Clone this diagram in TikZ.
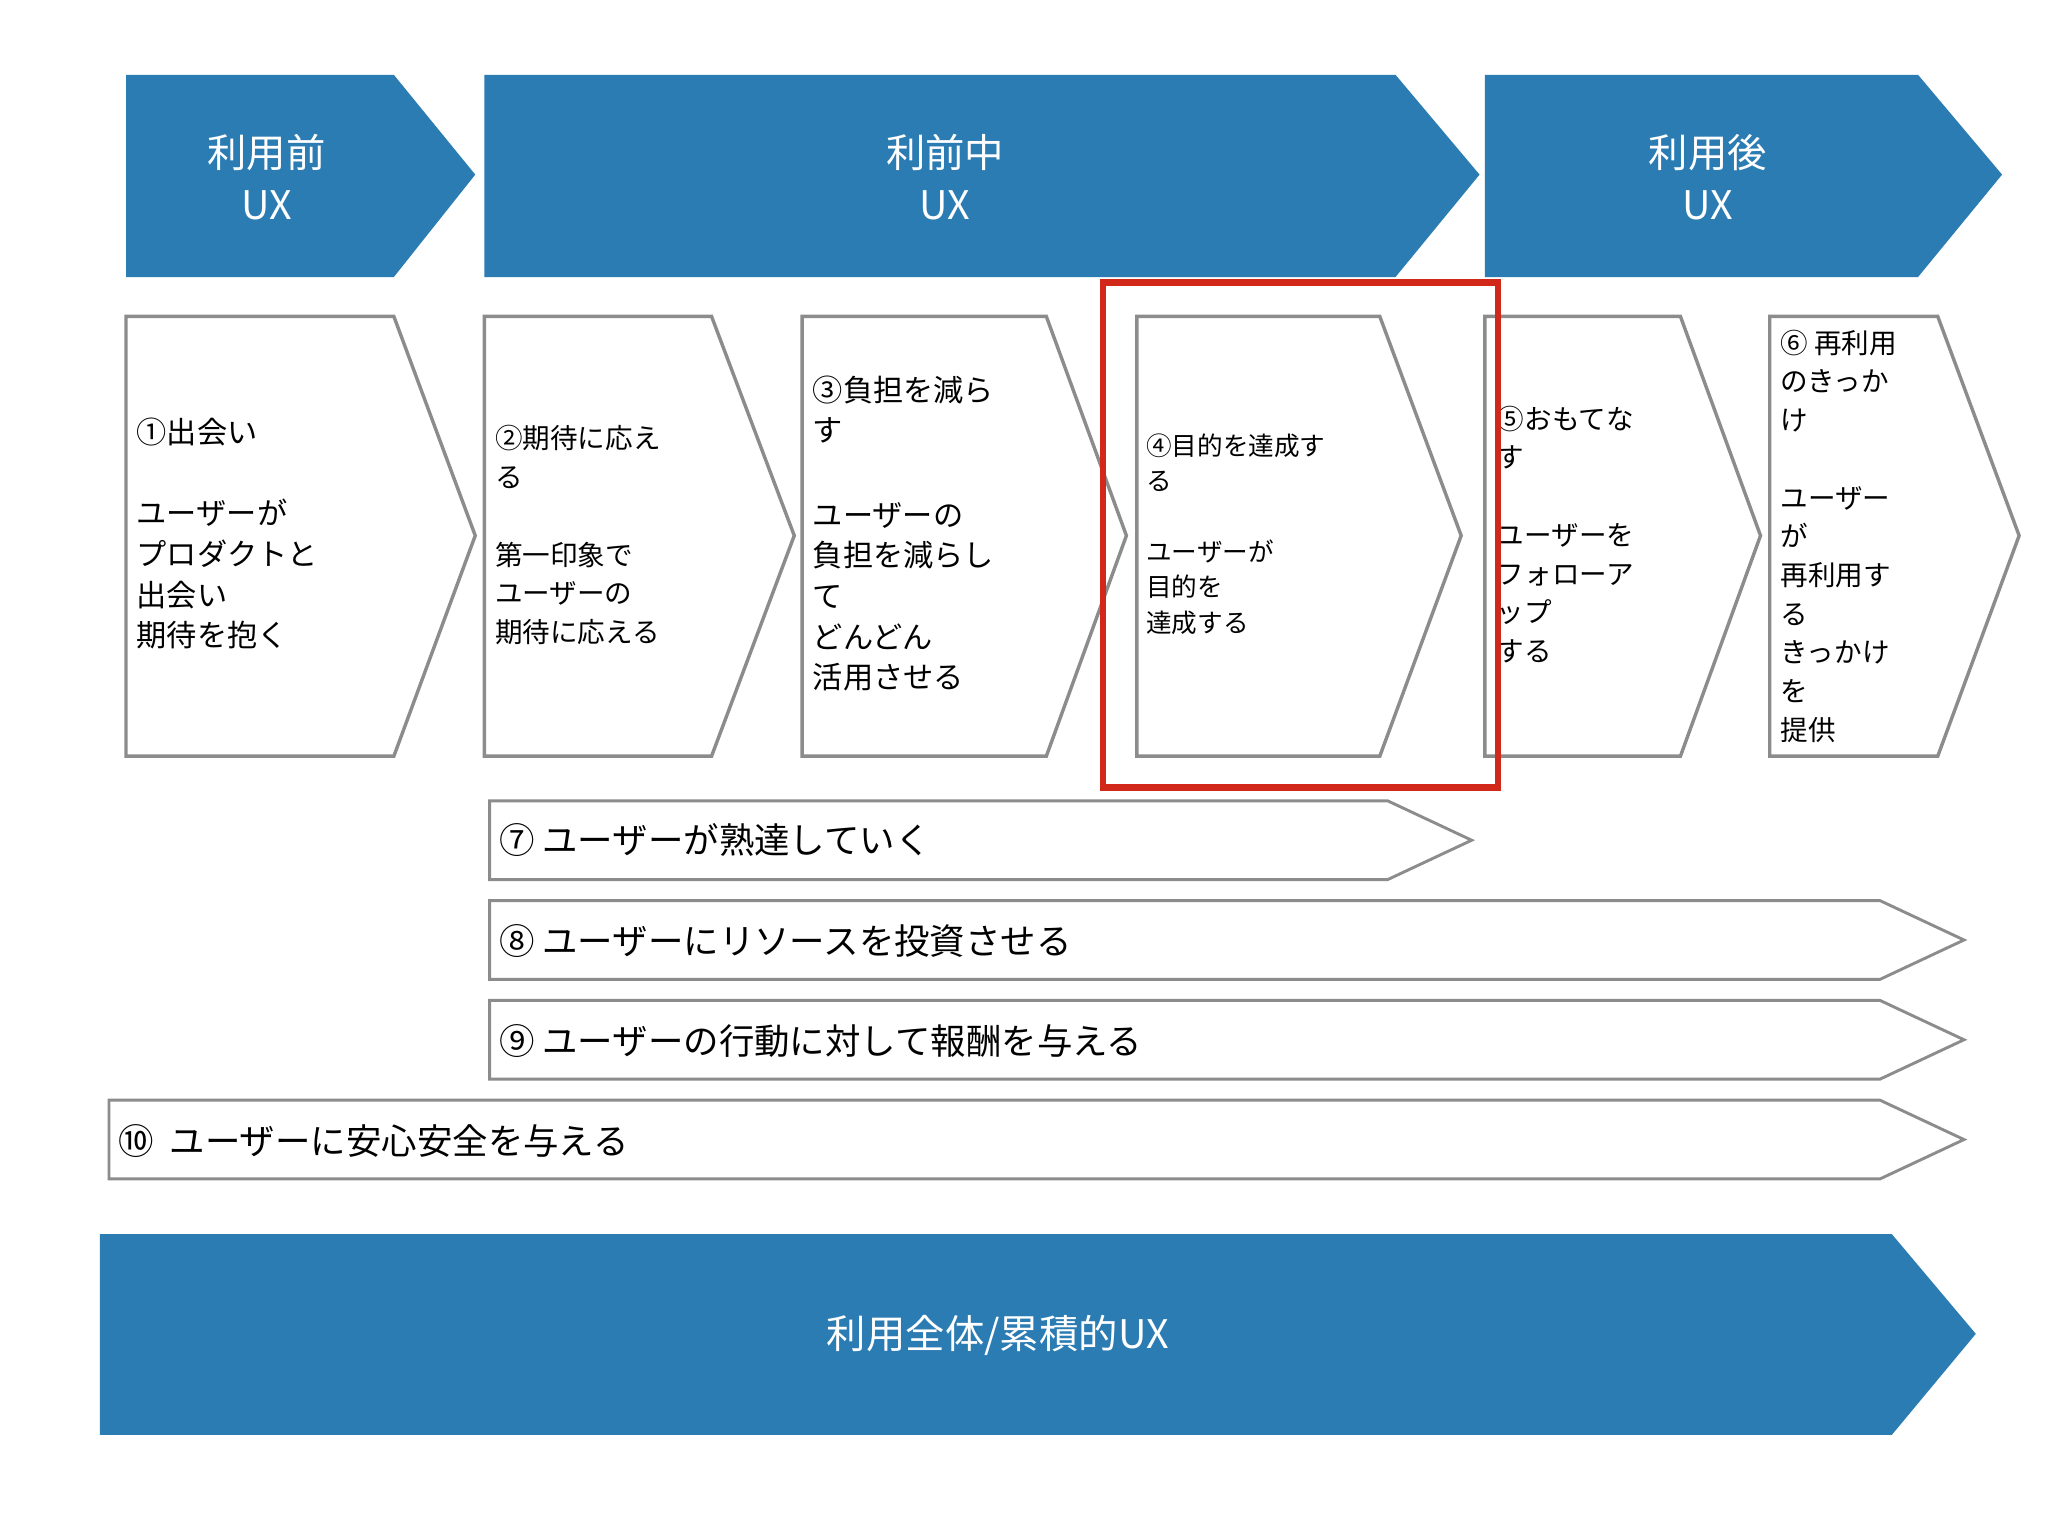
\documentclass[tikz,border=0pt]{standalone}
\usepackage{fontspec}
\setmainfont{Noto Sans CJK JP}
\definecolor{uxblue}{RGB}{44,124,180}
\definecolor{gline}{RGB}{140,140,140}
\definecolor{redmark}{RGB}{210,40,25}
\begin{document}
\begin{tikzpicture}[x=1pt,y=-1pt,
  blue/.style={fill=uxblue,draw=none},
  chev/.style={draw=gline,line width=2.6pt,fill=white,line join=miter},
  hd/.style={text=white,align=center,font=\fontsize{30}{40}\selectfont},
  bx/.style={anchor=north west,inner sep=0pt,align=left},
  bar/.style={anchor=west,inner sep=0pt,font=\fontsize{27}{30}\selectfont}]
\useasboundingbox (0,0) rectangle (1560,1170);
\fill[white] (0,0) rectangle (1560,1170);
% headers
\fill[blue] (96,57)--(300,57)--(362,133)--(300,211)--(96,211)--cycle;
\fill[blue] (369,57)--(1063,57)--(1127,133)--(1063,211)--(369,211)--cycle;
\fill[blue] (1131,57)--(1461,57)--(1525,133)--(1461,211)--(1131,211)--cycle;
\node[hd] (h1) at (203,135) {利用前\\UX};
\node[hd] (h2) at (720,135) {利前中\\UX};
\node[hd] (h3) at (1301,135) {利用後\\UX};
% chevrons
\draw[chev] (96,241)--(300,241)--(362,408)--(300,576)--(96,576)--cycle;
\draw[chev] (369,241)--(542,241)--(605,408)--(542,576)--(369,576)--cycle;
\draw[chev] (611,241)--(797,241)--(858,408)--(797,576)--(611,576)--cycle;
\draw[chev] (866,241)--(1051,241)--(1113,408)--(1051,576)--(866,576)--cycle;
\draw[chev] (1131,241)--(1280,241)--(1341,408)--(1280,576)--(1131,576)--cycle;
\draw[chev] (1348,241)--(1476,241)--(1538,408)--(1476,576)--(1348,576)--cycle;
\node[bx,font=\fontsize{23}{31}\selectfont] (t1) at (104,318) {①出会い\\[31pt]ユーザーが\\プロダクトと\\出会い\\期待を抱く};
\node[bx,font=\fontsize{21}{29.5}\selectfont] (t2) at (377,324) {②期待に応え\\る\\[29.5pt]第一印象で\\ユーザーの\\期待に応える};
\node[bx,font=\fontsize{23}{31}\selectfont] (t3) at (619,286) {③負担を減ら\\す\\[33pt]ユーザーの\\負担を減らし\\て\\どんどん\\活用させる};
\node[bx,font=\fontsize{19.5}{27}\selectfont] (t4) at (873,330) {④目的を達成す\\る\\[27pt]ユーザーが\\目的を\\達成する};
\node[bx,font=\fontsize{21}{29.5}\selectfont] (t5) at (1140,309) {⑤おもてな\\す\\[29.5pt]ユーザーを\\フォローア\\ップ\\する};
\node[bx,font=\fontsize{21}{29.5}\selectfont] (t6) at (1356,251) {⑥ 再利用\\のきっか\\け\\[29.5pt]ユーザー\\が\\再利用す\\る\\きっかけ\\を\\提供};
% red highlight
\draw[redmark,line width=5pt] (840,215) rectangle (1141,600);
% bars
\draw[chev,line width=2.2pt] (373,610)--(1057,610)--(1121,640)--(1057,670)--(373,670)--cycle;
\draw[chev,line width=2.2pt] (373,686)--(1432,686)--(1496,716)--(1432,746)--(373,746)--cycle;
\draw[chev,line width=2.2pt] (373,762)--(1432,762)--(1496,792)--(1432,822)--(373,822)--cycle;
\draw[chev,line width=2.2pt] (83,838)--(1432,838)--(1496,868)--(1432,898)--(83,898)--cycle;
\node[bar] (b7) at (380,640) {⑦ ユーザーが熟達していく};
\node[bar] (b8) at (380,717) {⑧ ユーザーにリソースを投資させる};
\node[bar] (b9) at (380,793) {⑨ ユーザーの行動に対して報酬を与える};
\node[bar] (b10) at (90,869) {⑩\ \ ユーザーに安心安全を与える};
% bottom
\fill[blue] (76,940)--(1441,940)--(1505,1016)--(1441,1093)--(76,1093)--cycle;
\node[hd] (h4) at (760,1017) {利用全体/累積的UX};
\end{tikzpicture}
\end{document}
